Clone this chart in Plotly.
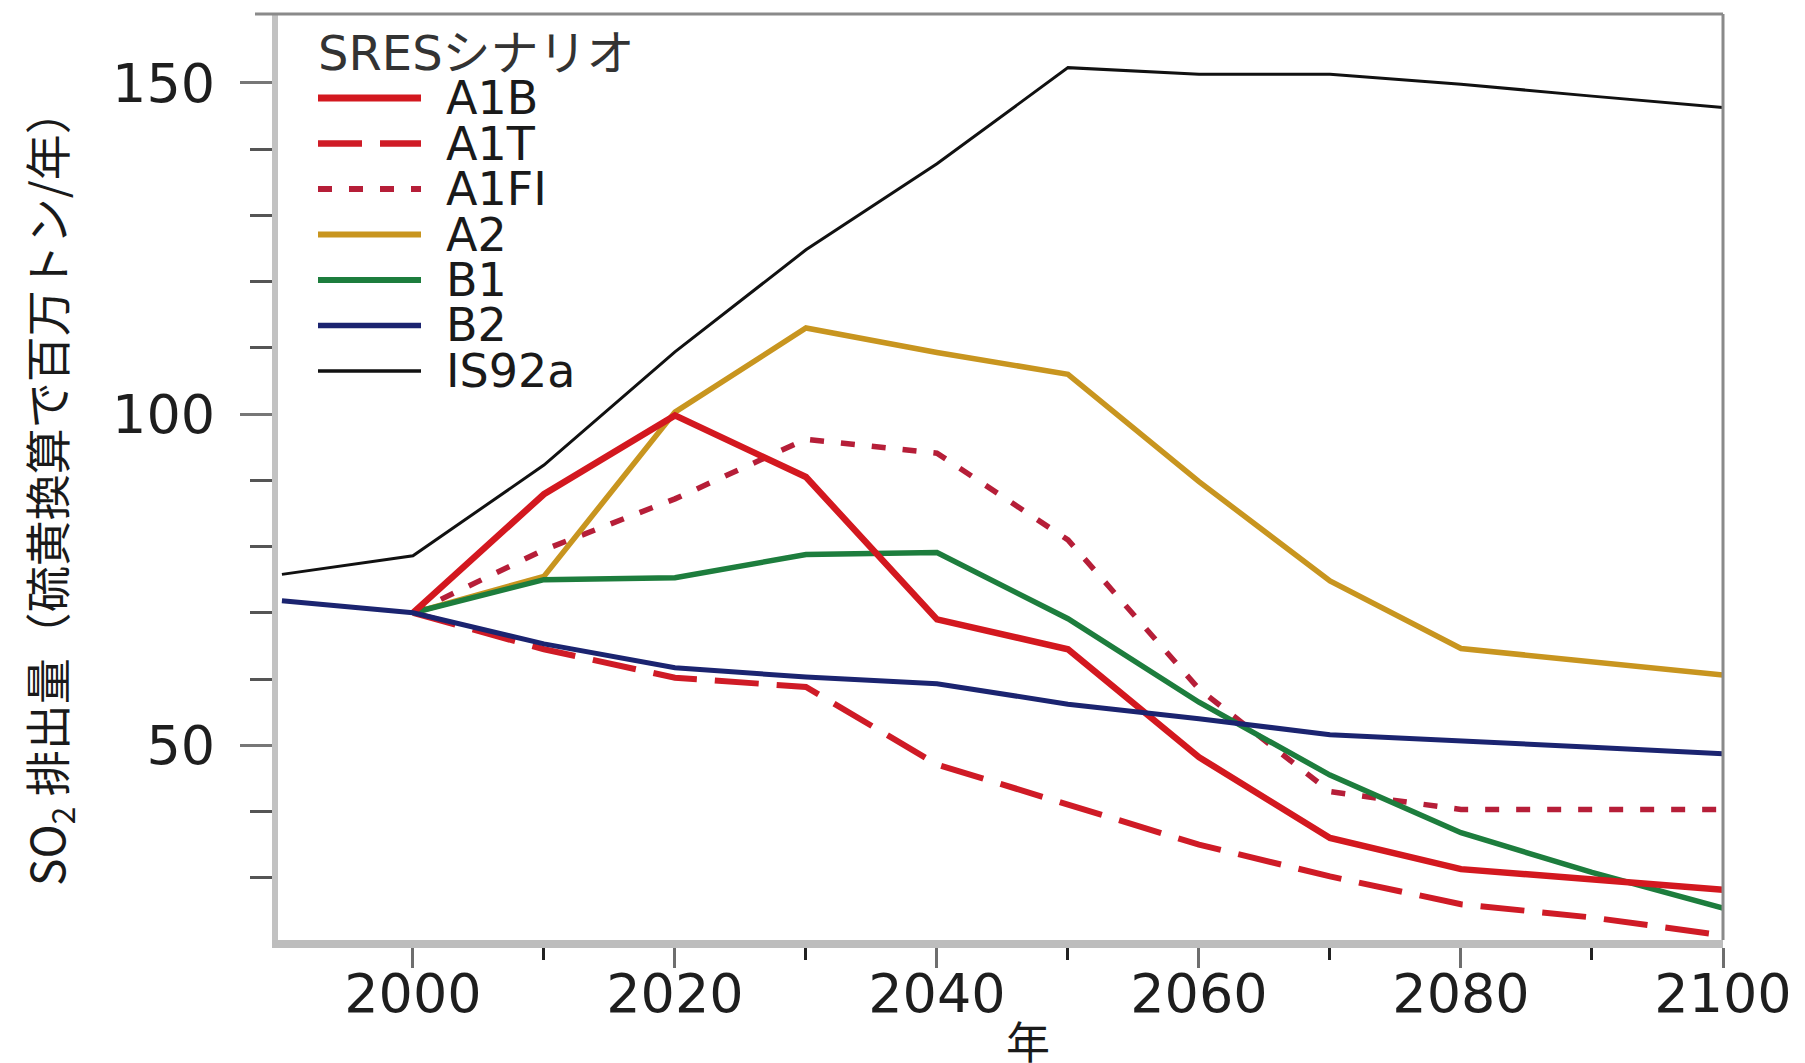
import plotly.graph_objects as go

# ---- data: SO2 emissions (million tonnes of sulphur per year) ----
years = [1990, 2000, 2010, 2020, 2030, 2040, 2050, 2060, 2070, 2080, 2090, 2100]

a1b = [None, 70.0, 87.9, 99.8, 90.5, 69.0, 64.5, 48.2, 36.0, 31.3, 29.8, 28.2]
a1t = [None, 70.0, 64.5, 60.2, 58.8, 47.1, 41.0, 35.0, 30.2, 26.0, 24.0, 21.3]
a1fi = [None, 70.0, 79.5, 87.2, 96.2, 94.1, 81.0, 58.5, 43.0, 40.3, 40.3, 40.3]
a2 = [None, 70.0, 75.5, 100.3, 113.0, 109.3, 106.0, 89.8, 74.8, 64.6, 62.6, 60.6]
b1 = [None, 70.0, 75.0, 75.3, 78.8, 79.1, 69.1, 56.5, 45.5, 36.8, 30.8, 25.4]
b2 = [71.8, 70.0, 65.3, 61.7, 60.3, 59.3, 56.2, 54.0, 51.6, 50.7, 49.7, 48.7]
is92a = [75.8, 78.6, 92.3, 109.4, 124.8, 137.8, 152.3, 151.3, 151.3, 149.8, 148.0, 146.3]

series_names = ["A1B", "A1T", "A1FI", "A2", "B1", "B2", "IS92a"]
series_values = [a1b, a1t, a1fi, a2, b1, b2, is92a]

legend_title = "SRESシナリオ"
x_tick_values = [2000, 2020, 2040, 2060, 2080, 2100]
x_minor_values = [2010, 2030, 2050, 2070, 2090]
y_tick_values = [50, 100, 150]
y_minor_values = [30, 40, 60, 70, 80, 90, 110, 120, 130, 140]
y_title = "SO<sub>2</sub> 排出量（硫黄換算で百万トン/年）"
x_title = "年"

# ---- styles ----
styles = {
    "A1B":   dict(color="#d3181f", width=6.5, dash="solid"),
    "A1T":   dict(color="#cf1b26", width=6.0, dash="44px,18px"),
    "A1FI":  dict(color="#b61e38", width=5.5, dash="14px,17px"),
    "A2":    dict(color="#c8951f", width=5.5, dash="solid"),
    "B1":    dict(color="#1d7d3d", width=5.5, dash="solid"),
    "B2":    dict(color="#1b2470", width=5.0, dash="solid"),
    "IS92a": dict(color="#111111", width=3.0, dash="solid"),
}
draw_order = ["A1T", "A1FI", "A2", "B1", "A1B", "B2", "IS92a"]

W, H = 1805, 1063
ML, MR, MT, MB = 278, 82, 14, 123
PW, PH = W - ML - MR, H - MT - MB

LATIN = "DejaVu Sans, Noto Sans CJK JP, sans-serif"
CJK = "Noto Sans CJK JP, DejaVu Sans, sans-serif"


def px_x(px):
    return (px - ML) / PW


def px_y(py):
    return (H - MB - py) / PH


fig = go.Figure()
lookup = dict(zip(series_names, series_values))
for name in draw_order:
    st = styles[name]
    fig.add_trace(go.Scatter(
        x=years, y=lookup[name], name=name, mode="lines",
        line=dict(color=st["color"], width=st["width"], dash=st["dash"]),
        connectgaps=False, showlegend=False,
    ))

# ---- hand-built legend (long line keys) ----
shapes = []
annotations = []
LEG_X0, LEG_X1, LEG_TX = 318, 421, 444
LEG_Y0, LEG_DY = 98, 45.5
annotations.append(dict(
    x=px_x(316), y=px_y(53), xref="paper", yref="paper",
    text=legend_title, showarrow=False, xanchor="left", yanchor="middle",
    font=dict(family=LATIN, size=48, color="#333333"),
))
for i, name in enumerate(series_names):
    st = styles[name]
    yy = px_y(LEG_Y0 + i * LEG_DY)
    shapes.append(dict(
        type="line", xref="paper", yref="paper",
        x0=px_x(LEG_X0), x1=px_x(LEG_X1), y0=yy, y1=yy,
        line=dict(color=st["color"], width=st["width"] + 0.5, dash=st["dash"]),
    ))
    annotations.append(dict(
        x=px_x(LEG_TX), y=yy, xref="paper", yref="paper",
        text=name, showarrow=False, xanchor="left", yanchor="middle",
        font=dict(family=LATIN, size=46, color="#1a1a1a"),
    ))

# top and right frame lines
shapes.append(dict(type="line", xref="paper", yref="paper",
                   x0=px_x(255), x1=1, y0=1, y1=1,
                   line=dict(color="#8a8a8a", width=3)))
shapes.append(dict(type="line", xref="paper", yref="paper",
                   x0=1, x1=1, y0=0, y1=1,
                   line=dict(color="#8a8a8a", width=3)))

# axis titles
annotations.append(dict(
    x=px_x(48), y=px_y(487), xref="paper", yref="paper",
    text=y_title, textangle=-90, showarrow=False,
    xanchor="center", yanchor="middle",
    font=dict(family=CJK, size=46, color="#1a1a1a"),
))
annotations.append(dict(
    x=px_x(1028), y=px_y(1040), xref="paper", yref="paper",
    text=x_title, showarrow=False, xanchor="center", yanchor="middle",
    font=dict(family=CJK, size=44, color="#1a1a1a"),
))

fig.update_layout(
    width=W, height=H,
    margin=dict(l=ML, r=MR, t=MT, b=MB, pad=0),
    paper_bgcolor="white", plot_bgcolor="white",
    showlegend=False,
    shapes=shapes, annotations=annotations,
    xaxis=dict(
        range=[1989.7, 2100], tickmode="array", tickvals=x_tick_values,
        ticks="outside", ticklen=20, tickwidth=3, tickcolor="#6e6e6e",
        showline=True, linecolor="#bdbdbd", linewidth=8,
        showgrid=False, zeroline=False, ticklabelstandoff=-21,
        tickfont=dict(family=LATIN, size=54, color="#1e1e1e"),
        minor=dict(tickmode="array", tickvals=x_minor_values, ticks="outside",
                   ticklen=12, tickwidth=3, tickcolor="#222222", showgrid=False),
    ),
    yaxis=dict(
        range=[20.6, 160.4], tickmode="array", tickvals=y_tick_values,
        ticks="outside", ticklen=32, tickwidth=3, tickcolor="#777777",
        showline=True, linecolor="#c2c2c2", linewidth=6,
        showgrid=False, zeroline=False, ticklabelstandoff=14,
        tickfont=dict(family=LATIN, size=54, color="#1e1e1e"),
        minor=dict(tickmode="array", tickvals=y_minor_values, ticks="outside",
                   ticklen=22, tickwidth=3, tickcolor="#555555", showgrid=False),
    ),
)

fig.write_html("out.html")
